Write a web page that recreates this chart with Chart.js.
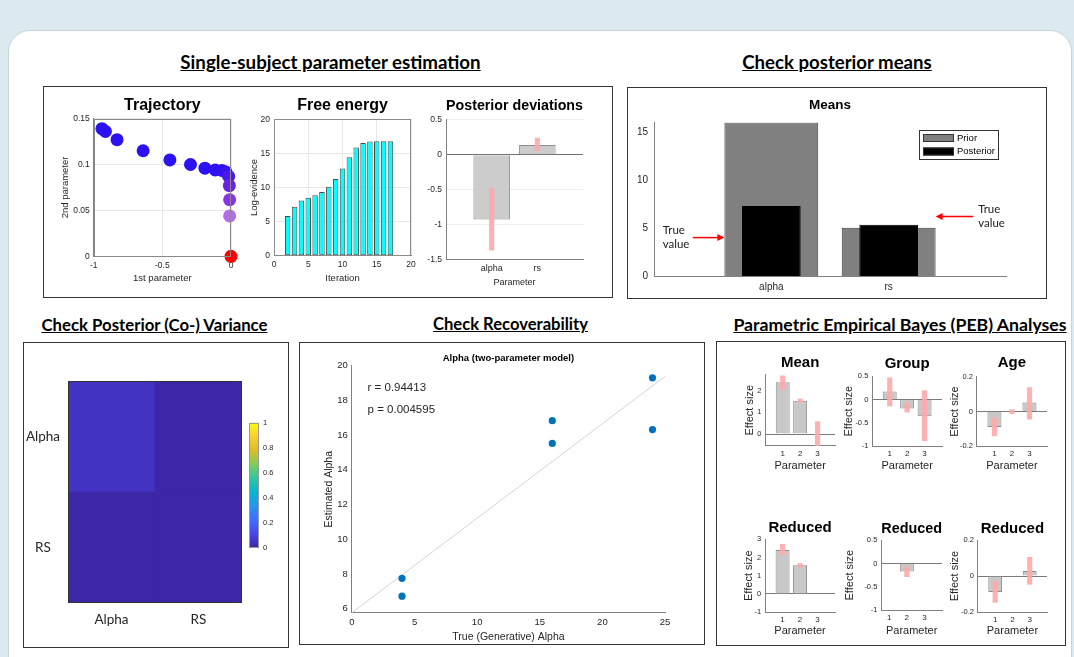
<!DOCTYPE html>
<html>
<head>
<meta charset="utf-8">
<script src="https://cdn.jsdelivr.net/npm/chart.js@4.4.1/dist/chart.umd.min.js"></script>
<style>
  body { margin: 0; width: 1074px; height: 657px; overflow: hidden; background: #dce9ef; font-family: 'Liberation Sans', Arial, sans-serif; }
  #sheet { position: absolute; left: 8px; top: 30px; width: 1062px; height: 650px; background: #fff; border-radius: 22px; border: 1px solid #c6d5dc; }
  .box { position: absolute; border: 1.5px solid #333; box-sizing: border-box; }
  .head { position: absolute; transform: translateX(-50%); font-family: Lato, sans-serif; font-weight: bold; text-decoration: underline; white-space: nowrap; color: #000; }
  canvas { position: absolute; }
</style>
</head>
<body>
<div id="sheet"></div>
<div class="box" style="left:43px;top:86px;width:570px;height:212px"></div>
<div class="box" style="left:627px;top:87px;width:420px;height:212px"></div>
<div class="box" style="left:23px;top:342px;width:266px;height:306px"></div>
<div class="box" style="left:299px;top:342px;width:406px;height:303px"></div>
<div class="box" style="left:716px;top:341px;width:350px;height:305px"></div>

<canvas id="cTraj"></canvas>
<canvas id="cFree"></canvas>
<canvas id="cDev"></canvas>
<canvas id="cMeans"></canvas>
<canvas id="cCov"></canvas>
<canvas id="cBar"></canvas>
<canvas id="cRec"></canvas>
<canvas id="cPebMean"></canvas>
<canvas id="cPebGroup"></canvas>
<canvas id="cPebAge"></canvas>
<canvas id="cRedMean"></canvas>
<canvas id="cRedGroup"></canvas>
<canvas id="cRedAge"></canvas>

<script>
// ---- data
const trajX = [-0.94, -0.915, -0.83, -0.64, -0.445, -0.295, -0.19, -0.115, -0.066, -0.037, -0.017, -0.012, -0.01, -0.01, 0];
const trajY = [0.139, 0.136, 0.127, 0.115, 0.105, 0.100, 0.096, 0.094, 0.0935, 0.0917, 0.087, 0.077, 0.0616, 0.044, 0];
const trajXTicks = [-1, -0.5, 0];
const trajYTicks = [0, 0.05, 0.1, 0.15];

const iterations = [2, 3, 4, 5, 6, 7, 8, 9, 10, 11, 12, 13, 14, 15, 16, 17];
const logEvidence = [5.82, 7.19, 8.07, 8.5, 8.85, 9.34, 10.12, 11.25, 12.76, 14.42, 15.84, 16.53, 16.72, 16.77, 16.77, 16.77];
const freeTicks = [0, 5, 10, 15, 20];

const paramNames = ['alpha', 'rs'];
const postDev = [-0.93, 0.14];
const postDevCI = [[-1.37, -0.48], [0.058, 0.24]];
const devTicks = [-1.5, -1, -0.5, 0, 0.5];

const priorMeans = [16, 5.03];
const postMeans = [7.29, 5.35];
const trueValues = [4.0, 6.2];
const meansTicks = [0, 5, 10, 15];

const covLabels = ['Alpha', 'RS'];
const covMatrix = [[0.045, 0.0], [0.0, 0.0]];
const colorbarTicks = [0, 0.2, 0.4, 0.6, 0.8, 1];

const trueAlpha = [4, 4, 16, 16, 24, 24];
const estAlpha = [7.75, 6.72, 16.83, 15.52, 19.3, 16.32];
const fitX = [0, 25];
const fitY = [5.77, 19.38];
const corrR = 0.94413;
const corrP = 0.004595;
const recXTicks = [0, 5, 10, 15, 20, 25];
const recYTicks = [6, 8, 10, 12, 14, 16, 18, 20];

const pebParams = [1, 2, 3];
const pebMean = [2.4, 1.54, 0.02];
const pebMeanCI = [[2.05, 2.69], [1.46, 1.62], [-0.54, 0.58]];
const pebGroup = [0.17, -0.19, -0.36];
const pebGroupCI = [[-0.14, 0.46], [-0.27, -0.07], [-0.88, 0.19]];
const pebAge = [-0.088, 0.003, 0.052];
const pebAgeCI = [[-0.14, -0.038], [-0.012, 0.012], [-0.044, 0.138]];
const redMean = [2.41, 1.57, 0];
const redMeanCI = [[2.15, 2.72], [1.48, 1.67], null];
const redGroup = [0, -0.17, 0];
const redGroupCI = [null, [-0.28, -0.07], null];
const redAge = [-0.088, 0, 0.028];
const redAgeCI = [[-0.146, -0.03], null, [-0.046, 0.104]];

// ---- styles
const trajColors = ['#2c12f0', '#2c12f0', '#2c12f0', '#2c12f0', '#2c12f0', '#2c12f0', '#2c12f0', '#2e12f0', '#3012ef', '#3614ee', '#4c18ea', '#6c22e4', '#8a32e6', '#b56af0', '#ff0000'];
const pink = 'rgba(255,168,168,0.9)';
const parula = [[62,38,168],[71,71,235],[62,111,255],[39,150,235],[8,181,208],[49,198,159],[129,204,89],[220,189,41],[252,207,48],[249,251,14]];

function parulaColor(v) {
  const t = Math.max(0, Math.min(1, v)) * (parula.length - 1);
  const i = Math.min(Math.floor(t), parula.length - 2), f = t - i;
  const c = parula[i].map((a, k) => Math.round(a + (parula[i + 1][k] - a) * f));
  return 'rgb(' + c.join(',') + ')';
}

Chart.defaults.font.family = "'Liberation Sans', Arial, sans-serif";
Chart.defaults.color = '#262626';
Chart.defaults.animation = false;
Chart.defaults.events = [];
Chart.defaults.plugins.legend.display = false;
Chart.defaults.plugins.tooltip.enabled = false;

// box round the plot area (MATLAB "box on")
Chart.register({
  id: 'frame',
  afterDatasetsDraw(chart, args, opts) {
    if (!opts.color) return;
    const a = chart.chartArea, c = chart.ctx;
    c.save();
    c.strokeStyle = opts.color;
    c.lineWidth = 1;
    c.strokeRect(Math.round(a.left) + 0.5, Math.round(a.top) + 0.5, Math.round(a.right - a.left) - 1, Math.round(a.bottom - a.top) - 1);
    c.restore();
  }
});

const fmt = v => String(Math.round(v * 1e4) / 1e4);

// sizes the canvas so that the plot area lands on p (page px)
function geo(id, p, o) {
  const c = document.getElementById(id);
  const yl = o.yl || 0, yr = o.yr || 0, xb = o.xb || 0;
  const padL = 2, padR = o.pr ?? 12, padB = 2;
  let padT, top, pb = 0;
  if (o.ts) {
    pb = Math.max(0, (p.t - o.tc) - o.ts * 0.6);
    padT = 2;
    top = padT + o.ts * 1.2 + pb;
  } else {
    padT = o.pt ?? 8;
    top = padT;
  }
  const left = Math.round(p.l - yl - padL), tp = Math.round(p.t - top);
  c.width = Math.round(p.r + yr + padR) - left;
  c.height = Math.round(p.b + xb + padB) - tp;
  c.style.left = left + 'px';
  c.style.top = tp + 'px';
  return { layout: { padding: { left: padL, right: padR, top: padT, bottom: padB } }, pb, yl, yr, xb };
}

function axis(o) {
  const vertical = o.pos === 'left' || o.pos === 'right';
  const ax = {
    type: o.type || 'linear', position: o.pos, min: o.min, max: o.max,
    offset: !!o.offset, stacked: !!o.stacked, display: o.display !== false,
    afterFit: s => { if (vertical) s.width = o.size; else s.height = o.size; },
    ticks: { font: { size: o.fs, family: o.ff }, padding: o.pad ?? 4, maxRotation: 0, autoSkip: false,
             crossAlign: o.cross || 'near', color: '#262626' },
    grid: { display: !!o.grid, drawTicks: false, color: o.grid, offset: false },
    border: { display: o.border !== false, color: o.bc || '#808080' },
    title: o.title ? { display: true, text: o.title, font: { size: o.tfs }, padding: 0, color: '#262626' } : { display: false }
  };
  if (o.at) ax.afterBuildTicks = s => { s.ticks = o.at.map(v => ({ value: v })); };
  if (o.cb) ax.ticks.callback = o.cb;
  else if (ax.type === 'linear') ax.ticks.callback = fmt;
  return ax;
}

function ttl(text, size, pb) {
  return { display: true, text, font: { size, weight: 'bold' }, color: '#000', padding: { top: 0, bottom: pb }, fullSize: false };
}

function base(g, extra) {
  return Object.assign({ responsive: false, devicePixelRatio: 1, layout: g.layout }, extra);
}

function head(text, cx, cy, w) {
  const m = document.createElement('canvas').getContext('2d');
  m.font = 'bold 16px Lato';
  const fs = 16 * w / m.measureText(text).width;
  const d = document.createElement('div');
  d.className = 'head';
  d.textContent = text;
  d.style.fontSize = fs.toFixed(2) + 'px';
  d.style.lineHeight = (fs * 1.2).toFixed(2) + 'px';
  d.style.left = cx + 'px';
  d.style.top = (cy - fs * 0.6) + 'px';
  document.body.appendChild(d);
}

head('Single-subject parameter estimation', 330.5, 62, 301);
head('Check posterior means', 837, 62, 190);
head('Check Posterior (Co-) Variance', 154.5, 325, 227);
head('Check Recoverability', 510.5, 325, 155);
head('Parametric Empirical Bayes (PEB) Analyses', 900, 325, 334);

// ---- Trajectory
{
  const p = { l: 94, t: 119, r: 231, b: 256 };
  const g = geo('cTraj', p, { yl: p.l - (66 - 5.7), xb: 278 + 5.7 - p.b, ts: 16, tc: 106 });
  new Chart('cTraj', {
    type: 'scatter',
    data: { datasets: [{ data: trajX.map((x, i) => ({ x, y: trajY[i] })), pointRadius: 6.5,
      pointBackgroundColor: trajColors, pointBorderWidth: 0, clip: false }] },
    options: base(g, {
      plugins: { title: ttl('Trajectory', 16, g.pb), frame: { color: '#8a8a8a' } },
      scales: {
        x: axis({ pos: 'bottom', min: -1, max: 0, at: trajXTicks, fs: 8.5, size: g.xb, grid: '#e8e8e8', title: '1st parameter', tfs: 9.5 }),
        y: axis({ pos: 'left', min: 0, max: 0.15, at: trajYTicks, fs: 8.5, size: g.yl, grid: '#e8e8e8', title: '2nd parameter', tfs: 9.5 })
      }
    })
  });
}

// ---- Free energy
{
  const p = { l: 274.3, t: 119.3, r: 410.7, b: 255.7 };
  const g = geo('cFree', p, { yl: p.l - (255 - 5.7), xb: 278.3 + 5.7 - p.b, ts: 16, tc: 105.7 });
  new Chart('cFree', {
    type: 'bar',
    data: { datasets: [{ data: iterations.map((x, i) => ({ x, y: logEvidence[i] })), backgroundColor: '#00ffff',
      borderColor: '#4a4a4a', borderWidth: 1, borderSkipped: false, barPercentage: 0.8, categoryPercentage: 1 }] },
    options: base(g, {
      plugins: { title: ttl('Free energy', 16, g.pb), frame: { color: '#8a8a8a' } },
      scales: {
        x: axis({ pos: 'bottom', min: 0, max: 20, at: freeTicks, fs: 8.5, size: g.xb, grid: '#e8e8e8', title: 'Iteration', tfs: 9.5 }),
        y: axis({ pos: 'left', min: 0, max: 20, at: freeTicks, fs: 8.5, size: g.yl, grid: '#e8e8e8', title: 'Log-evidence', tfs: 9.5 })
      }
    })
  });
}

// ---- Posterior deviations
{
  const p = { l: 446, t: 120.3, r: 583, b: 259 };
  const g = geo('cDev', p, { yl: 30, xb: 282.3 + 5.4 - p.b, ts: 15.5, tc: 105.7 });
  new Chart('cDev', {
    type: 'bar',
    data: { datasets: [
      { data: postDevCI.map((c, i) => ({ x: i + 1, y: c })), backgroundColor: pink, barThickness: 4.5, grouped: false },
      { data: postDev.map((v, i) => ({ x: i + 1, y: v })), backgroundColor: '#cccccc', borderColor: '#8c8c8c',
        borderWidth: 1, barPercentage: 0.8, categoryPercentage: 1, grouped: false }
    ] },
    options: base(g, {
      plugins: { title: ttl('Posterior deviations', 15.5, g.pb) },
      scales: {
        x: axis({ pos: 'bottom', min: 0, max: 3, at: [1, 2], cb: v => paramNames[v - 1], fs: 9, size: g.xb, title: 'Parameter', tfs: 9 }),
        y: axis({ pos: 'left', min: -1.5, max: 0.5, at: devTicks, fs: 8.5, size: g.yl,
          grid: c => c.tick && c.tick.value === 0 ? '#707070' : '#eeeeee' })
      }
    })
  });
}

// ---- Means (prior vs posterior)
{
  const p = { l: 654.3, t: 122.3, r: 1006, b: 275.7 };
  const g = geo('cMeans', p, { yl: 30, xb: 22, ts: 13.5, tc: 105, pr: 40 });
  const legend = {
    id: 'meansLegend',
    afterDraw(chart) {
      const { ctx, chartArea: a } = chart;
      const items = chart.data.datasets.slice().reverse();
      const w = 79, h = 29, x0 = Math.round(a.right - 87), y0 = Math.round(a.top + 8);
      ctx.save();
      ctx.fillStyle = '#fff';
      ctx.fillRect(x0, y0, w, h);
      ctx.strokeStyle = '#333';
      ctx.lineWidth = 1;
      ctx.strokeRect(x0 + 0.5, y0 + 0.5, w, h);
      ctx.font = '9.5px "Liberation Sans"';
      ctx.textBaseline = 'middle';
      items.forEach((d, i) => {
        const yy = y0 + 8 + i * 13.5;
        ctx.fillStyle = d.backgroundColor;
        ctx.fillRect(x0 + 4, yy - 4, 31, 8);
        ctx.strokeRect(x0 + 4.5, yy - 3.5, 30, 7);
        ctx.fillStyle = '#000';
        ctx.fillText(d.label, x0 + 38, yy);
      });
      ctx.restore();
    }
  };
  const arrows = {
    id: 'trueArrows',
    afterDatasetsDraw(chart) {
      const { ctx, scales: { x, y } } = chart;
      const spec = [{ v: trueValues[0], from: 0.33, to: 0.6, tx: -30 }, { v: trueValues[1], from: 2.72, to: 2.4, tx: 5 }];
      ctx.save();
      spec.forEach(s => {
        const yy = y.getPixelForValue(s.v), x1 = x.getPixelForValue(s.from), x2 = x.getPixelForValue(s.to);
        const dir = Math.sign(x2 - x1);
        ctx.strokeStyle = '#ff0000';
        ctx.fillStyle = '#ff0000';
        ctx.lineWidth = 1.5;
        ctx.beginPath();
        ctx.moveTo(x1, yy);
        ctx.lineTo(x2 - dir * 5, yy);
        ctx.stroke();
        ctx.beginPath();
        ctx.moveTo(x2, yy);
        ctx.lineTo(x2 - dir * 7, yy - 3.5);
        ctx.lineTo(x2 - dir * 7, yy + 3.5);
        ctx.closePath();
        ctx.fill();
        ctx.fillStyle = '#222';
        ctx.font = '11.5px Lato';
        ctx.textBaseline = 'middle';
        ctx.fillText('True', x1 + s.tx, yy - 7);
        ctx.fillText('value', x1 + s.tx, yy + 7);
      });
      ctx.restore();
    }
  };
  new Chart('cMeans', {
    type: 'bar',
    data: { datasets: [
      { label: 'Posterior', data: postMeans.map((v, i) => ({ x: i + 1, y: v })), backgroundColor: '#000000', borderColor: '#000',
        borderWidth: 1, barPercentage: 0.5, categoryPercentage: 1, grouped: false },
      { label: 'Prior', data: priorMeans.map((v, i) => ({ x: i + 1, y: v })), backgroundColor: '#808080', borderColor: '#3a3a3a',
        borderWidth: 1, barPercentage: 0.8, categoryPercentage: 1, grouped: false }
    ] },
    options: base(g, {
      plugins: { title: ttl('Means', 13.5, g.pb) },
      scales: {
        x: axis({ pos: 'bottom', min: 0, max: 3, at: [1, 2], cb: v => paramNames[v - 1], fs: 10, pad: 5, size: g.xb }),
        y: axis({ pos: 'left', min: 0, max: 16, at: meansTicks, fs: 10, size: g.yl, pad: 6 })
      }
    }),
    plugins: [legend, arrows]
  });
}

// ---- Posterior (co-)variance heat map
{
  const p = { l: 68, t: 375, r: 242, b: 603 };
  const g = geo('cCov', p, { yl: 42, xb: 30, pt: 10, pr: 4 });
  // rows drawn bottom-up: RS row first, Alpha row stacked on top
  const rows = [1, 0];
  new Chart('cCov', {
    type: 'bar',
    data: {
      labels: covLabels,
      datasets: rows.map(r => ({
        label: covLabels[r],
        data: covLabels.map(() => 1),
        backgroundColor: covMatrix[r].map(parulaColor),
        barPercentage: 1, categoryPercentage: 1, borderWidth: 0
      }))
    },
    options: base(g, {
      plugins: { frame: { color: '#333' } },
      scales: {
        x: axis({ type: 'category', pos: 'bottom', offset: true, stacked: true, fs: 13.5, ff: 'Lato', pad: 9, size: g.xb, border: false }),
        y: axis({ pos: 'left', min: 0, max: 2, stacked: true, at: [0.5, 1.5], cb: v => covLabels[v > 1 ? 0 : 1],
          fs: 13.5, ff: 'Lato', pad: 8, cross: 'center', size: g.yl, border: false })
      }
    })
  });
}

// ---- colour bar
{
  const p = { l: 249, t: 422, r: 259, b: 554 };
  const g = geo('cBar', p, { yl: 0, yr: 24, pr: 2, pt: 8 });
  new Chart('cBar', {
    type: 'bar',
    data: { labels: [''], datasets: [{ data: [[0, 1]], barPercentage: 1, categoryPercentage: 1, borderWidth: 0,
      backgroundColor: ctx => {
        const a = ctx.chart.chartArea;
        if (!a) return '#888';
        const gr = ctx.chart.ctx.createLinearGradient(0, a.bottom, 0, a.top);
        parula.forEach((c, i) => gr.addColorStop(i / (parula.length - 1), 'rgb(' + c.join(',') + ')'));
        return gr;
      } }] },
    options: base(g, {
      plugins: { frame: { color: '#999' } },
      scales: {
        x: { type: 'category', offset: true, display: false },
        y: axis({ pos: 'right', min: 0, max: 1, at: colorbarTicks, fs: 7.5, size: g.yr, border: false, pad: 4 })
      }
    })
  });
}

// ---- recoverability scatter
{
  const p = { l: 352.3, t: 366, r: 664.7, b: 612.7 };
  const g = geo('cRec', p, { yl: p.l - (329.7 - 6.3), xb: 636.7 + 6.3 - p.b, ts: 9.5, tc: 359, pr: 14 });
  const stats = {
    id: 'statsText',
    afterDatasetsDraw(chart) {
      const { ctx, scales: { x, y } } = chart;
      ctx.save();
      ctx.font = '11.5px "Liberation Sans"';
      ctx.fillStyle = '#262626';
      ctx.textBaseline = 'middle';
      ctx.fillText('r = ' + corrR, x.getPixelForValue(1.25), y.getPixelForValue(18.73));
      ctx.fillText('p = ' + corrP, x.getPixelForValue(1.25), y.getPixelForValue(17.46));
      ctx.restore();
    }
  };
  new Chart('cRec', {
    type: 'scatter',
    data: { datasets: [
      { data: trueAlpha.map((x, i) => ({ x, y: estAlpha[i] })), pointRadius: 3.6, pointBackgroundColor: '#0072bd', pointBorderWidth: 0 },
      { type: 'line', data: fitX.map((x, i) => ({ x, y: fitY[i] })), borderColor: '#d4d4d4', borderWidth: 1, pointRadius: 0 }
    ] },
    options: base(g, {
      plugins: { title: ttl('Alpha (two-parameter model)', 9.5, g.pb) },
      scales: {
        x: axis({ pos: 'bottom', min: 0, max: 25, at: recXTicks, fs: 9.5, size: g.xb, title: 'True (Generative) Alpha', tfs: 10.5 }),
        y: axis({ pos: 'left', min: 5.77, max: 20, at: recYTicks, fs: 9.5, size: g.yl, title: 'Estimated Alpha', tfs: 10.5 })
      }
    }),
    plugins: [stats]
  });
}

// ---- PEB panels
function peb(id, name, p, vals, ci, yr, yt, o) {
  const g = geo(id, p, { yl: p.l - (o.ytx - 6.6), xb: o.xty + 6.6 - p.b, ts: 15, tc: o.tc, pr: 10 });
  new Chart(id, {
    type: 'bar',
    data: { datasets: [
      { data: pebParams.map((x, i) => ci[i] ? { x, y: ci[i] } : null).filter(Boolean), backgroundColor: pink, barThickness: 4.5, grouped: false },
      { data: pebParams.map((x, i) => ({ x, y: vals[i] })), backgroundColor: '#c8c8c8', borderColor: '#8c8c8c',
        borderWidth: 1, barPercentage: 0.8, categoryPercentage: 1, grouped: false }
    ] },
    options: base(g, {
      plugins: { title: ttl(name, 15, g.pb) },
      scales: {
        x: axis({ pos: 'bottom', min: o.xmin ?? 0, max: 4, at: pebParams, fs: 8, pad: 3, size: g.xb, title: 'Parameter', tfs: 11 }),
        y: axis({ pos: 'left', min: yr[0], max: yr[1], at: yt, fs: 7.5, size: g.yl, title: 'Effect size', tfs: 11,
          grid: c => c.tick && c.tick.value === 0 ? '#7a7a7a' : 'transparent' })
      }
    })
  });
}

peb('cPebMean', 'Mean', { l: 765, t: 374.6, r: 835, b: 446.2 }, pebMean, pebMeanCI, [-0.55, 2.75], [0, 1, 2], { ytx: 749.3, xty: 466.7, tc: 363 });
peb('cPebGroup', 'Group', { l: 872, t: 376, r: 942, b: 446.7 }, pebGroup, pebGroupCI, [-1, 0.5], [-1, -0.5, 0, 0.5], { ytx: 848.3, xty: 466.7, tc: 364 });
peb('cPebAge', 'Age', { l: 977.3, t: 376.7, r: 1047, b: 446.7 }, pebAge, pebAgeCI, [-0.2, 0.2], [-0.2, 0, 0.2], { ytx: 955, xty: 466.7, tc: 363 });
peb('cRedMean', 'Reduced', { l: 765, t: 539.3, r: 835, b: 611.7 }, redMean, redMeanCI, [-1, 3], [-1, 0, 1, 2, 3], { ytx: 748.5, xty: 631, tc: 528 });
peb('cRedGroup', 'Reduced', { l: 881, t: 540, r: 941.7, b: 610 }, redGroup, redGroupCI, [-1, 0.5], [-1, -0.5, 0, 0.5], { ytx: 849.3, xty: 631, tc: 529, xmin: 0.55 });
peb('cRedAge', 'Reduced', { l: 978.3, t: 540, r: 1047, b: 611.7 }, redAge, redAgeCI, [-0.2, 0.2], [-0.2, 0, 0.2], { ytx: 955, xty: 631, tc: 529 });
</script>
</body>
</html>
